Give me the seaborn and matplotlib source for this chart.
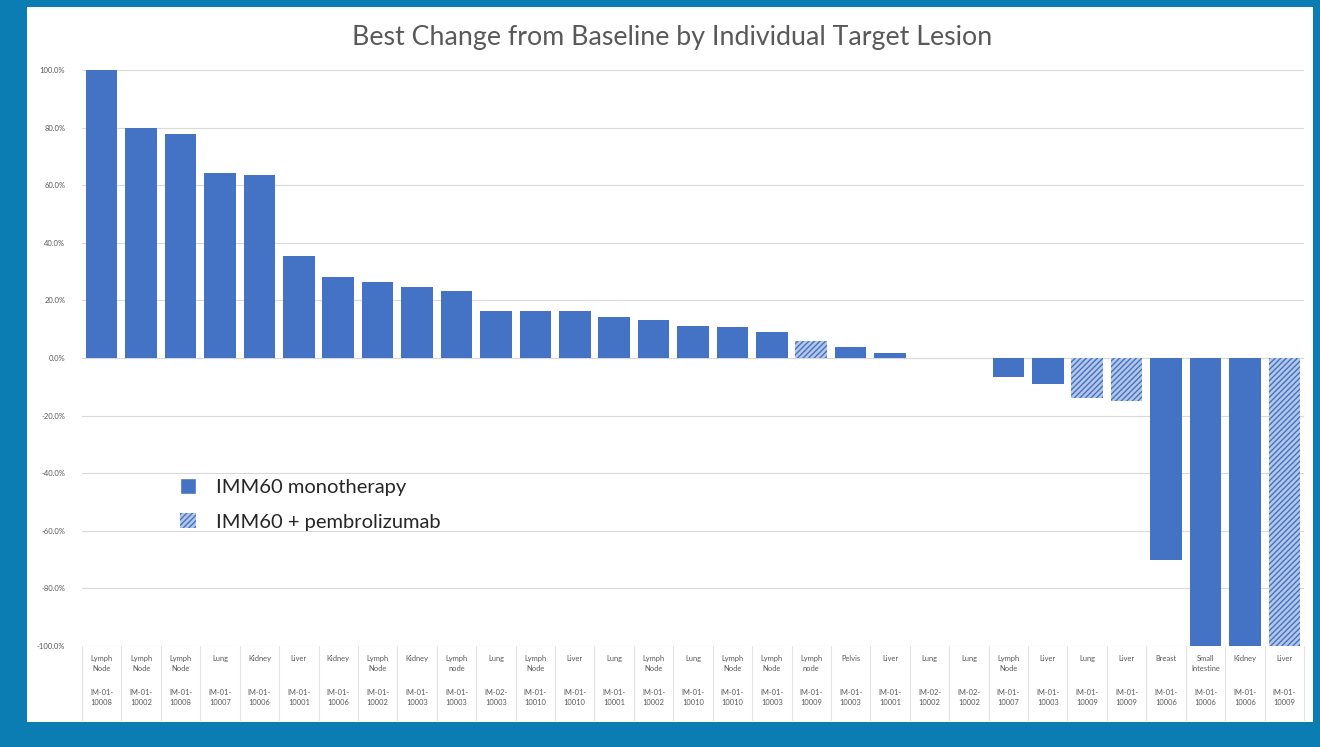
import numpy as np
import pandas as pd
import matplotlib.pyplot as plt
import matplotlib.patches as mpatches
import seaborn as sns

# Lesion data (left to right)
tissues = ["Lymph\nNode", "Lymph\nNode", "Lymph\nNode", "Lung", "Kidney", "Liver",
           "Kidney", "Lymph\nNode", "Kidney", "Lymph\nnode", "Lung", "Lymph\nNode",
           "Liver", "Lung", "Lymph\nNode", "Lung", "Lymph\nNode", "Lymph\nNode",
           "Lymph\nnode", "Pelvis", "Liver", "Lung", "Lung", "Lymph\nNode", "Liver",
           "Lung", "Liver", "Breast", "Small\nIntestine", "Kidney", "Liver"]
patients = ["IM-01-\n10008", "IM-01-\n10002", "IM-01-\n10008", "IM-01-\n10007",
            "IM-01-\n10006", "IM-01-\n10001", "IM-01-\n10006", "IM-01-\n10002",
            "IM-01-\n10003", "IM-01-\n10003", "IM-02-\n10003", "IM-01-\n10010",
            "IM-01-\n10010", "IM-01-\n10001", "IM-01-\n10002", "IM-01-\n10010",
            "IM-01-\n10010", "IM-01-\n10003", "IM-01-\n10009", "IM-01-\n10003",
            "IM-01-\n10001", "IM-02-\n10002", "IM-02-\n10002", "IM-01-\n10007",
            "IM-01-\n10003", "IM-01-\n10009", "IM-01-\n10009", "IM-01-\n10006",
            "IM-01-\n10006", "IM-01-\n10006", "IM-01-\n10009"]
values = [100.0, 79.8, 77.7, 64.1, 63.4, 35.5, 28.2, 26.5, 24.7, 23.3, 16.4, 16.4,
          16.4, 14.3, 13.2, 11.1, 10.8, 9.1, 5.9, 3.8, 1.7, 0.0, 0.0, -6.5, -9.1,
          -13.9, -15.0, -70.0, -100.0, -100.0, -100.0]
combo = [False] * 18 + [True] + [False] * 6 + [True, True] + [False] * 3 + [True]

mono_label = "IMM60 monotherapy"
combo_label = "IMM60 + pembrolizumab"
blue = "#4472c4"
light = "#b4c7e7"
grey_text = "#595959"

df = pd.DataFrame({
    "pos": np.arange(len(values)),
    "value": values,
    "group": [combo_label if c else mono_label for c in combo],
})

sns.set_theme(style="white")
plt.rcParams["font.family"] = ["Lato", "DejaVu Sans"]
plt.rcParams["hatch.color"] = blue
plt.rcParams["hatch.linewidth"] = 1.0

W, H = 1320, 747
fig = plt.figure(figsize=(W / 100, H / 100), dpi=100, facecolor="#0b7db3")
# white panel inside the teal frame
fig.patches.append(mpatches.Rectangle((27 / W, 1 - 722 / H), (1313 - 27) / W, (722 - 7) / H,
                                      transform=fig.transFigure, facecolor="white",
                                      edgecolor="none", zorder=-5))

ax = fig.add_axes([82 / W, 1 - 646 / H, (1304 - 82) / W, (646 - 70) / H])
ax.set_facecolor("none")

sns.barplot(data=df, x="pos", y="value", hue="group", dodge=False, width=0.8,
            palette={mono_label: blue, combo_label: light}, saturation=1,
            hue_order=[mono_label, combo_label], legend=False, ax=ax, zorder=3,
            linewidth=0)

for bar in ax.containers[1]:
    bar.set_hatch("//////")
    bar.set_edgecolor(blue)
    bar.set_linewidth(0)

ax.set_xlim(-0.5, len(values) - 0.5)
ax.set_ylim(-100, 100)
ax.set_yticks(np.arange(-100, 101, 20))
ax.set_yticklabels([f"{v:.1f}%" for v in np.arange(-100, 101, 20)],
                   fontsize=5.5, color=grey_text)
ax.tick_params(axis="y", length=0, pad=12)
ax.yaxis.grid(True, color="#d9d9d9", linewidth=0.8, zorder=0)
ax.set_axisbelow(True)
ax.axhline(0, color="#d9d9d9", linewidth=0.8, zorder=1)
ax.set_xticks([])
ax.set_xlabel("")
ax.set_ylabel("")
for s in ax.spines.values():
    s.set_visible(False)

# category table under the plot
trans = ax.get_xaxis_transform()
px = 1 / (646 - 70)
for i, (t, p) in enumerate(zip(tissues, patients)):
    ax.text(i, -9 * px, t, transform=trans, ha="center", va="top",
            fontsize=5.4, color=grey_text, linespacing=1.5, clip_on=False)
    ax.text(i, -43 * px, p, transform=trans, ha="center", va="top",
            fontsize=5.4, color=grey_text, linespacing=1.5, clip_on=False)
for i in range(len(values) + 1):
    ax.plot([i - 0.5, i - 0.5], [0, -74 * px], transform=trans, color="#e3e3e3",
            linewidth=0.8, clip_on=False)

fig.text(672 / W, 1 - 38 / H, "Best Change from Baseline by Individual Target Lesion",
         ha="center", va="center", fontsize=19.3, color=grey_text)

handles = [mpatches.Patch(facecolor=blue, label=mono_label),
           mpatches.Patch(facecolor=light, edgecolor=blue, linewidth=0, hatch="//////",
                          label=combo_label)]
fig.legend(handles=handles, loc="upper left", bbox_to_anchor=(162 / W, 1 - 460 / H),
           frameon=False, fontsize=14.5, handlelength=0.8, handleheight=0.8,
           handletextpad=1.0, labelspacing=0.85, labelcolor="#262626")

fig.savefig("out.png", dpi=100, facecolor=fig.get_facecolor())
